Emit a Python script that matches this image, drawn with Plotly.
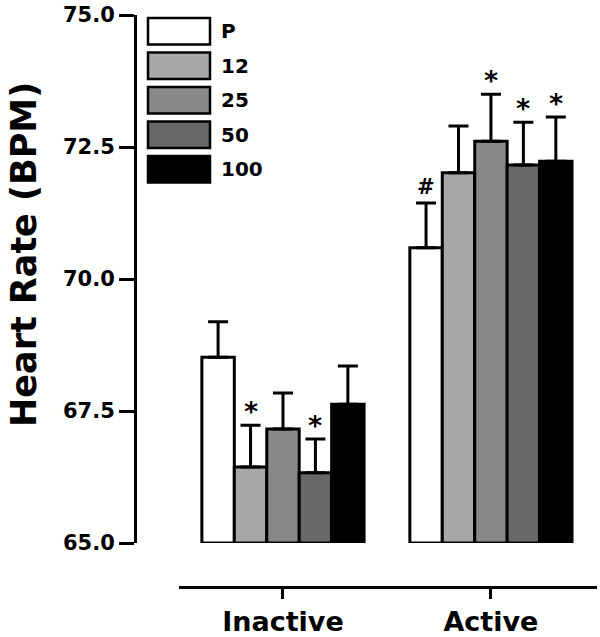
import plotly.graph_objects as go

categories = ["Inactive", "Active"]
doses = ["P", "12", "25", "50", "100"]
colors = ["#ffffff", "#a8a8a8", "#888888", "#686868", "#000000"]
# mean heart rate per dose: [Inactive, Active]
means = {
    "P":   [68.52, 70.59],
    "12":  [66.44, 72.01],
    "25":  [67.16, 72.61],
    "50":  [66.33, 72.16],
    "100": [67.63, 72.23],
}
errors = {
    "P":   [0.67, 0.85],
    "12":  [0.79, 0.89],
    "25":  [0.68, 0.89],
    "50":  [0.64, 0.81],
    "100": [0.72, 0.84],
}
marks = {
    "P":   ["", "#"],
    "12":  ["*", ""],
    "25":  ["", "*"],
    "50":  ["*", "*"],
    "100": ["", "*"],
}
y_ticks = [65.0, 67.5, 70.0, 72.5, 75.0]
BASE = 65.0

FONT = "DejaVu Sans"
W, H = 600, 637
L, R, T, B = 135, 3, 15, 50
PW, PH = W - L - R, H - T - B


def px2x(px):
    return (px - L) / PW


def px2y(py):
    return (H - B - py) / PH


BARGAP = 0.22
bar_w = (1 - BARGAP) / len(doses)

fig = go.Figure()
annotations = []
for i, d in enumerate(doses):
    fig.add_trace(go.Bar(
        x=categories,
        y=[m - BASE for m in means[d]],
        base=BASE,
        name=d,
        marker=dict(color=colors[i], line=dict(color="black", width=3)),
        error_y=dict(type="data", symmetric=False, array=errors[d],
                     arrayminus=[0] * len(categories),
                     color="black", thickness=3, width=10),
        showlegend=False,
    ))
    for j, c in enumerate(categories):
        if marks[d][j]:
            star = marks[d][j] == "*"
            annotations.append(dict(
                x=j + (i - (len(doses) - 1) / 2) * bar_w,
                y=means[d][j] + errors[d][j],
                xref="x", yref="y", text=marks[d][j], showarrow=False,
                yanchor="bottom", yshift=-4 if star else 2,
                font=dict(family=FONT, size=27 if star else 21,
                          color="black", weight="bold"),
            ))

# legend drawn as boxes + labels
shapes = []
for i, d in enumerate(doses):
    top = 18 + i * 34.5
    bot = top + 26.5
    shapes.append(dict(type="rect", xref="paper", yref="paper",
                       x0=px2x(148), x1=px2x(210), y0=px2y(bot), y1=px2y(top),
                       fillcolor=colors[i], line=dict(color="black", width=2.5)))
    annotations.append(dict(x=px2x(219), y=px2y((top + bot) / 2), xref="paper", yref="paper",
                            text=d, showarrow=False, xanchor="left", yanchor="middle",
                            font=dict(family=FONT, size=20, color="black", weight="bold")))

annotations.append(dict(x=px2x(24), y=px2y(255), xref="paper", yref="paper",
                        text="Heart Rate (BPM)", textangle=-90, showarrow=False,
                        xanchor="center", yanchor="middle",
                        font=dict(family=FONT, size=35, color="black", weight="bold")))

fig.update_layout(
    width=W, height=H,
    margin=dict(l=L, r=R, t=T, b=B, pad=0, autoexpand=False),
    plot_bgcolor="white", paper_bgcolor="white",
    barmode="group", bargap=BARGAP, bargroupgap=0,
    shapes=shapes, annotations=annotations,
    xaxis=dict(
        domain=[px2x(179), 1], anchor="free", position=0, automargin=False,
        range=[-0.5, 1.51], showline=True, linecolor="black", linewidth=3,
        ticks="outside", ticklen=10, tickwidth=3, tickcolor="black",
        showgrid=False, zeroline=False, ticklabeloverflow="allow",
        tickfont=dict(family=FONT, size=27, color="black", weight="bold"),
    ),
    yaxis=dict(
        domain=[px2y(543), 1], anchor="free", position=0, automargin=False,
        range=[65, 75], tickvals=y_ticks, tickformat=".1f",
        showline=True, linecolor="black", linewidth=3,
        ticks="outside", ticklen=15, tickwidth=3, tickcolor="black",
        showgrid=False, zeroline=False, ticklabeloverflow="allow",
        tickfont=dict(family=FONT, size=21, color="black", weight="bold"),
    ),
)

fig.write_html("out.html", config={"displayModeBar": False},
               post_script="document.body.style.margin='0';document.body.style.padding='0';")
